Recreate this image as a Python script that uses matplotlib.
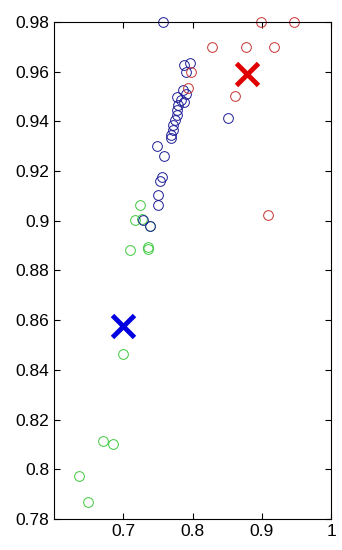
import numpy as np
import matplotlib.pyplot as plt

plt.rcParams['font.family'] = ['Liberation Sans', 'DejaVu Sans']

# cluster 1 (blue)
blue_x = [0.7575, 0.787, 0.796, 0.790, 0.7855, 0.790, 0.777, 0.7875, 0.784, 0.779,
          0.777, 0.777, 0.774, 0.772, 0.772, 0.7695, 0.7695, 0.851, 0.749, 0.7595,
          0.7566, 0.7527, 0.7494, 0.7494, 0.7287, 0.7383]
blue_y = [0.980, 0.9626, 0.9634, 0.9600, 0.9526, 0.9510, 0.9500, 0.9480, 0.9486, 0.9466,
          0.9446, 0.9426, 0.9406, 0.9386, 0.9366, 0.9346, 0.9332, 0.9415, 0.9300, 0.9260,
          0.9178, 0.9160, 0.9104, 0.9064, 0.9003, 0.8980]
# cluster 2 (red)
red_x = [0.8983, 0.947, 0.8277, 0.8767, 0.9175, 0.8608, 0.798, 0.7935, 0.9094]
red_y = [0.980, 0.980, 0.970, 0.970, 0.970, 0.9502, 0.960, 0.9533, 0.9023]
# cluster 3 (green)
green_x = [0.724, 0.7167, 0.727, 0.739, 0.7095, 0.735, 0.735, 0.699, 0.670, 0.6846,
           0.6365, 0.6494]
green_y = [0.9064, 0.9004, 0.9006, 0.8978, 0.8883, 0.8893, 0.8885, 0.8463, 0.8115, 0.810,
           0.7973, 0.787]
# centroids
cent_x = [0.700, 0.879]
cent_y = [0.8577, 0.959]

xticks = [0.7, 0.8, 0.9, 1.0]
xlabels = ['0.7', '0.8', '0.9', '1']
yticks = [0.78, 0.80, 0.82, 0.84, 0.86, 0.88, 0.90, 0.92, 0.94, 0.96, 0.98]
ylabels = ['0.78', '0.8', '0.82', '0.84', '0.86', '0.88', '0.9', '0.92', '0.94', '0.96', '0.98']

fig = plt.figure(figsize=(3.42, 5.5), dpi=100)
ax = fig.add_axes([0.158, 0.0564, 0.81, 0.9036])

ms = 7
ax.plot(green_x, green_y, 'o', mfc='none', mec='#3cc83c', ms=ms, mew=0.7, clip_on=False)
ax.plot(blue_x, blue_y, 'o', mfc='none', mec='#1c1c96', ms=ms, mew=0.7, clip_on=False)
ax.plot(red_x, red_y, 'o', mfc='none', mec='#c83232', ms=ms, mew=0.7, clip_on=False)
ax.plot(cent_x[0], cent_y[0], 'x', color='#0000e0', ms=16, mew=3.5, clip_on=False)
ax.plot(cent_x[1], cent_y[1], 'x', color='#e00000', ms=16, mew=3.5, clip_on=False)

ax.set_xlim(0.6, 1.0)
ax.set_ylim(0.78, 0.98)
ax.set_xticks(xticks)
ax.set_xticklabels(xlabels)
ax.set_yticks(yticks)
ax.set_yticklabels(ylabels)
ax.tick_params(direction='in', top=True, right=True, length=4, width=0.8, labelsize=12.5)
for s in ax.spines.values():
    s.set_linewidth(0.8)

fig.savefig('out.png', dpi=100)
